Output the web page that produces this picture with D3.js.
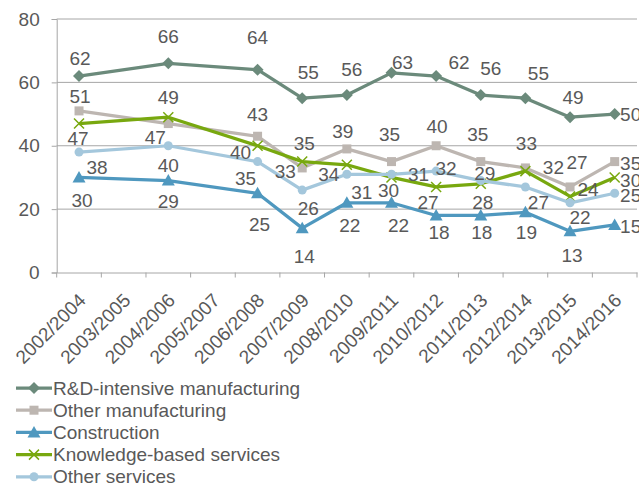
<!DOCTYPE html>
<html>
<head>
<meta charset="utf-8">
<script src="https://cdn.jsdelivr.net/npm/d3@7"></script>
<style>
  html, body { margin: 0; padding: 0; background: #fff; }
  svg { display: block; font-family: "Liberation Sans", Arial, sans-serif; }
</style>
</head>
<body>
<svg id="chart" width="639" height="487"></svg>
<script>
// Periods on the category axis
const periods = ["2002/2004", "2003/2005", "2004/2006", "2005/2007", "2006/2008", "2007/2009",
  "2008/2010", "2009/2011", "2010/2012", "2011/2013", "2012/2014", "2013/2015", "2014/2016"];

// Share per sector (null = no survey for that period)
const rdManufacturing    = [62, null, 66, null, 64, 55, 56, 63, 62, 56, 55, 49, 50];
const otherManufacturing = [51, null, 47, null, 43, 33, 39, 35, 40, 35, 33, 27, 35];
const construction       = [30, null, 29, null, 25, 14, 22, 22, 18, 18, 19, 13, 15];
const knowledgeServices  = [47, null, 49, null, 40, 35, 34, 30, 27, 28, 32, 24, 30];
const otherServices      = [38, null, 40, null, 35, 26, 31, 31, 32, 29, 27, 22, 25];

const seriesNames = ["R&D-intensive manufacturing", "Other manufacturing", "Construction",
  "Knowledge-based services", "Other services"];

const yTicks = [0, 20, 40, 60, 80];

// Drawing styles per series
const styles = [
  { color: "#6b8a7b", marker: "diamond" },
  { color: "#bdb6b1", marker: "square" },
  { color: "#4f98bf", marker: "triangle" },
  { color: "#78a80f", marker: "cross" },
  { color: "#a4c7dc", marker: "circle" }
];

// Data label offsets (dx, dy) from each point, per series, for the periods with values
const labelOffsets = [
  [[1,-18],[0,-27],[0,-32],[6,-26],[5,-26],[11,-11],[23,-14],[10,-27],[13,-25],[3,-20],[16,0]],
  [[1,-15],[-13,14],[0,-22],[-17,3],[-4,-18],[-2,-27],[1,-19],[-3,-27],[1,-25],[7,-25],[16,2]],
  [[3,23],[0,21],[2,31],[2,28],[3,23],[7,23],[3,17],[1,17],[1,20],[2,24],[16,1]],
  [[-1,15],[0,-20],[-17,7],[2,-18],[-18,10],[-3,13],[-8,15],[2,19],[28,-4],[18,-7],[16,3]],
  [[18,15],[0,20],[-12,17],[6,18],[15,18],[27,0],[10,-3],[4,-7],[13,15],[10,15],[16,2]]
];

const allSeries = [rdManufacturing, otherManufacturing, construction, knowledgeServices, otherServices];

const svg = d3.select("#chart");
const textColor = "#595959";
const gridColor = "#a6a6a6";
const fontSize = "19px";

const plot = { left: 56.7, right: 637, top: 19, bottom: 272.5 };

const x = d3.scaleBand().domain(periods).range([plot.left, plot.right]).padding(0);
const y = d3.scaleLinear().domain([0, 80]).range([plot.bottom, plot.top]);
const cx = p => x(p) + x.bandwidth() / 2;

// Horizontal gridlines
svg.append("g")
  .selectAll("line")
  .data(yTicks.filter(t => t > 0))
  .join("line")
  .attr("x1", plot.left).attr("x2", plot.right)
  .attr("y1", d => y(d)).attr("y2", d => y(d))
  .attr("stroke", gridColor).attr("stroke-width", 1);

// Y axis
const yAxis = svg.append("g")
  .attr("transform", `translate(${plot.left},0)`)
  .call(d3.axisLeft(y).tickValues(yTicks).tickSize(5).tickPadding(12));
yAxis.select(".domain").attr("stroke", gridColor);
yAxis.selectAll(".tick line").attr("stroke", gridColor);
yAxis.selectAll(".tick text").attr("fill", textColor)
  .style("font-size", fontSize).style("font-family", "'Liberation Sans', Arial, sans-serif");

// X axis with ticks at band boundaries
const xAxis = svg.append("g")
  .attr("transform", `translate(0,${plot.bottom})`)
  .call(d3.axisBottom(x).tickSize(0).tickFormat(""));
xAxis.select(".domain").attr("stroke", gridColor);
xAxis.selectAll(".tick").remove();
const boundaries = periods.map(p => x(p)).concat([x(periods[periods.length - 1]) + x.bandwidth()]);
xAxis.selectAll("line.bt")
  .data(boundaries)
  .join("line")
  .attr("class", "bt")
  .attr("x1", d => d).attr("x2", d => d)
  .attr("y1", 0).attr("y2", 5)
  .attr("stroke", gridColor);

// Rotated period labels
svg.append("g")
  .selectAll("text")
  .data(periods)
  .join("text")
  .attr("transform", d => `translate(${cx(d) + 8},${plot.bottom + 29}) rotate(-45)`)
  .attr("text-anchor", "end")
  .attr("fill", textColor)
  .style("font-size", fontSize)
  .text(d => d);

// Marker shapes
function drawMarker(g, type, color, px, py) {
  if (type === "diamond") {
    g.append("path").attr("d", `M${px},${py - 6}L${px + 6},${py}L${px},${py + 6}L${px - 6},${py}Z`)
      .attr("fill", color);
  } else if (type === "square") {
    g.append("rect").attr("x", px - 4.5).attr("y", py - 4.5).attr("width", 9).attr("height", 9)
      .attr("fill", color);
  } else if (type === "triangle") {
    g.append("path").attr("d", `M${px},${py - 6.5}L${px + 6.5},${py + 5}L${px - 6.5},${py + 5}Z`)
      .attr("fill", color);
  } else if (type === "cross") {
    g.append("path").attr("d", `M${px - 5},${py - 5}L${px + 5},${py + 5}M${px - 5},${py + 5}L${px + 5},${py - 5}`)
      .attr("stroke", color).attr("stroke-width", 1.5).attr("fill", "none");
  } else if (type === "circle") {
    g.append("circle").attr("cx", px).attr("cy", py).attr("r", 4.5).attr("fill", color);
  }
}

const line = d3.line().x(d => cx(d.period)).y(d => y(d.value));

const seriesPoints = allSeries.map(vals =>
  periods.map((p, i) => ({ period: p, value: vals[i] })).filter(d => d.value !== null));

// Lines and markers, series drawn in order
seriesPoints.forEach((pts, si) => {
  const st = styles[si];
  const g = svg.append("g");
  g.append("path").datum(pts).attr("d", line)
    .attr("fill", "none").attr("stroke", st.color).attr("stroke-width", 3.25)
    .attr("stroke-linejoin", "round");
  pts.forEach(d => drawMarker(g, st.marker, st.color, cx(d.period), y(d.value)));
});

// Data labels on top
seriesPoints.forEach((pts, si) => {
  svg.append("g")
    .selectAll("text")
    .data(pts)
    .join("text")
    .attr("x", (d, i) => cx(d.period) + labelOffsets[si][i][0])
    .attr("y", (d, i) => y(d.value) + labelOffsets[si][i][1])
    .attr("dy", "0.35em")
    .attr("text-anchor", "middle")
    .attr("fill", textColor)
    .style("font-size", fontSize)
    .text(d => d.value);
});

// Legend
const legend = svg.append("g").attr("transform", "translate(16,388)");
seriesNames.forEach((name, i) => {
  const row = legend.append("g").attr("transform", `translate(0,${i * 22.2})`);
  row.append("line").attr("x1", 0).attr("x2", 36).attr("y1", 0).attr("y2", 0)
    .attr("stroke", styles[i].color).attr("stroke-width", 3.25);
  drawMarker(row, styles[i].marker, styles[i].color, 18, 0);
  row.append("text").attr("x", 37).attr("y", 0).attr("dy", "0.35em")
    .attr("fill", textColor).style("font-size", fontSize).text(name);
});
</script>
</body>
</html>
